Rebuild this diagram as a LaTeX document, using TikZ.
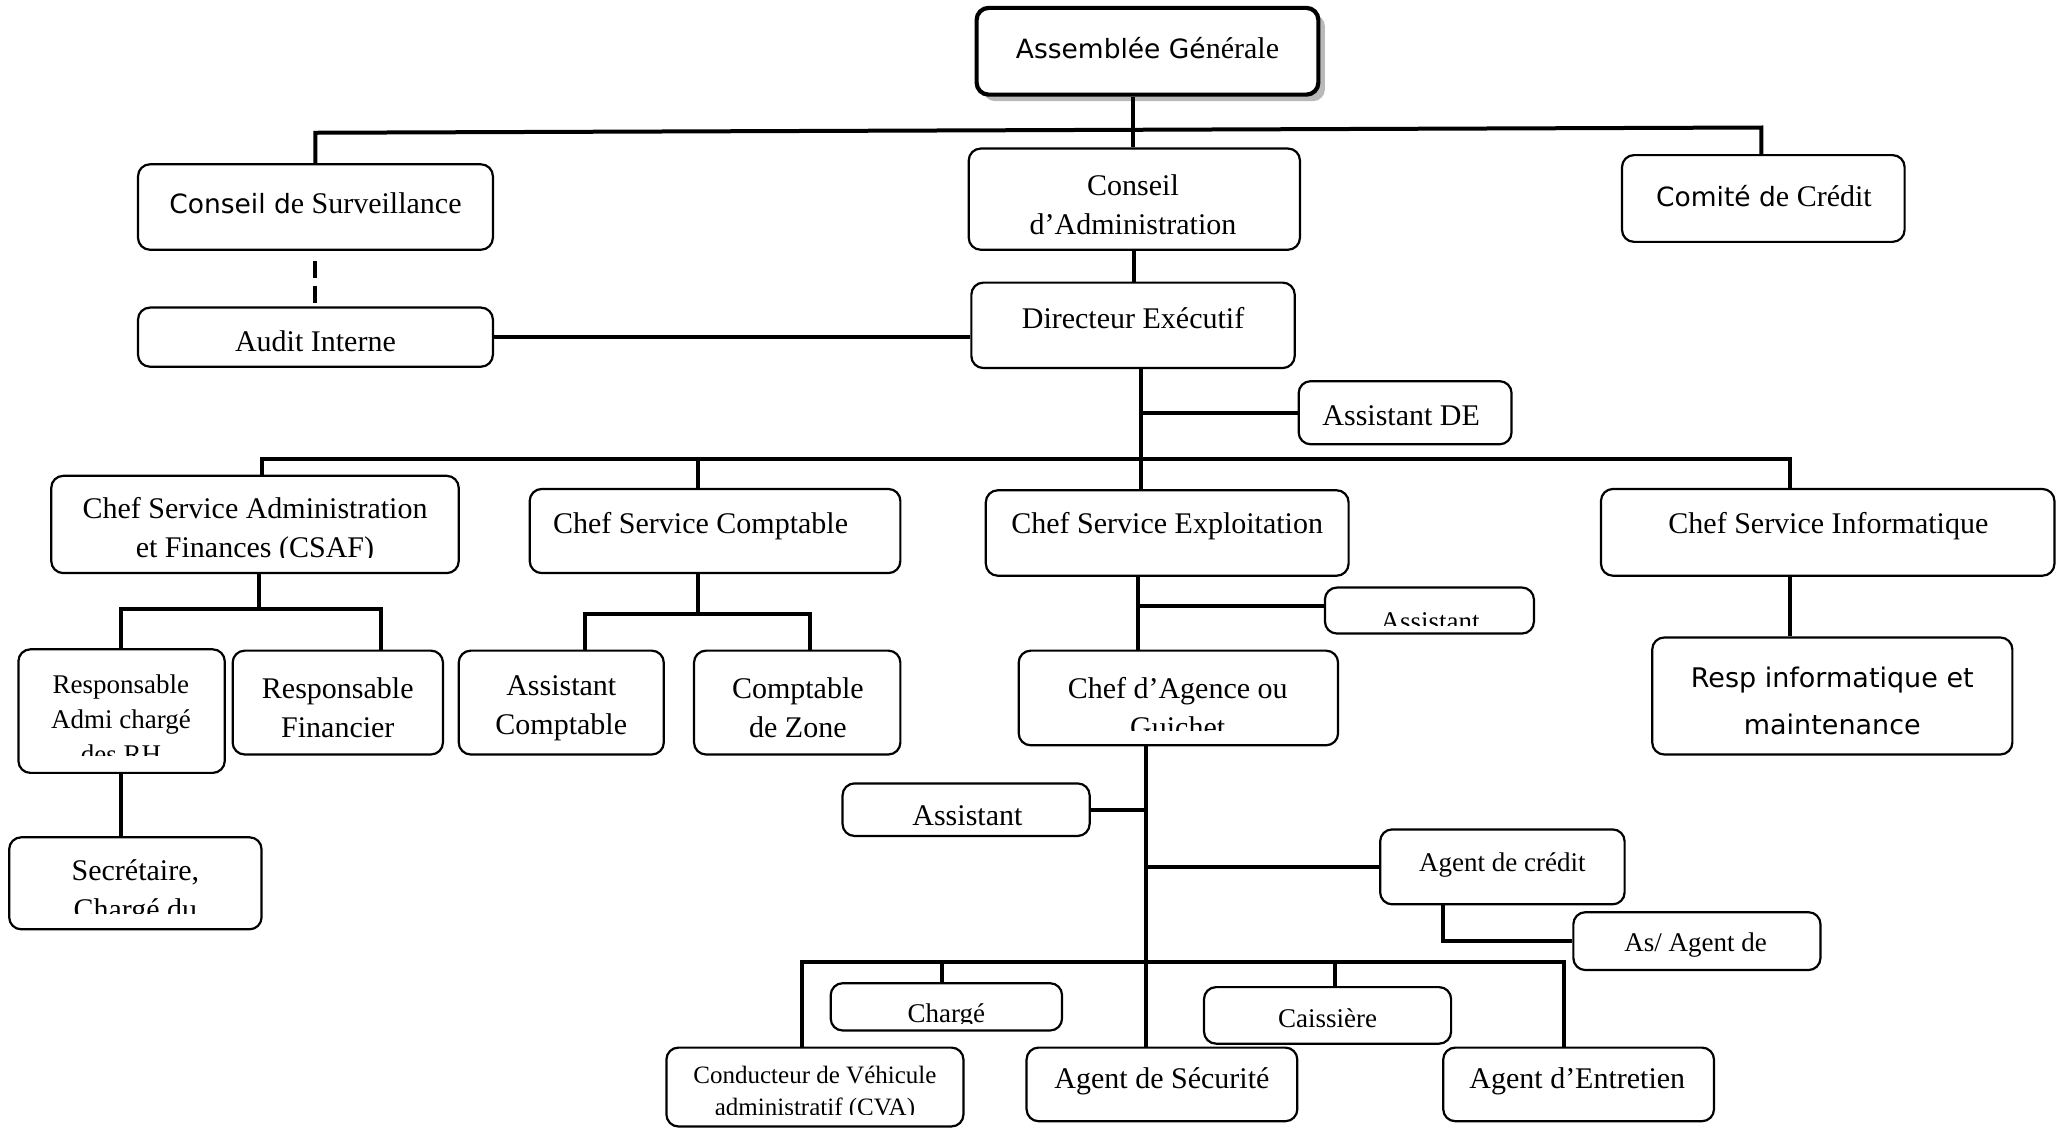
\documentclass[tikz,border=0pt]{standalone}
\usepackage{fontspec}
\setmainfont{Liberation Serif}
\newfontfamily\comicf{DejaVu Sans}
\usetikzlibrary{fit}
\begin{document}
\begin{tikzpicture}[x=1.3144pt,y=-1.3144pt,
  box/.style={draw, line width=2.2pt, rounded corners=12pt, inner sep=0pt},
  link/.style={line width=4pt},
  txt/.style={inner sep=0pt, align=center, font=\fontsize{30}{39}\selectfont},
  txs/.style={inner sep=0pt, align=center, font=\fontsize{27}{35}\selectfont},
  txc/.style={inner sep=0pt, align=center, font=\fontsize{25}{32}\selectfont},
  cmc/.style={inner sep=0pt, align=center, font=\comicf\fontsize{27}{47}\selectfont},
]
\useasboundingbox (0,0) rectangle (1568,859);
\fill[white] (0,0) rectangle (1568,859);

% ---------- boxes ----------
\node[fill=gray!55, rounded corners=12pt, inner sep=0pt, fit={(748,11) (1008,77)}] (agsh) {};
\node[box, line width=4.2pt, fill=white, fit={(743,6) (1003,72)}] (ag) {};
\node[box, fit={(105,125) (375,190)}] (cs) {};
\node[box, fit={(737,113) (989,190)}] (ca) {};
\node[box, fit={(1234,118) (1449,184)}] (cc) {};
\node[box, fit={(105,234) (375,279)}] (audit) {};
\node[box, fit={(739,215) (985,280)}] (de) {};
\node[box, fit={(988,290) (1150,338)}] (ade) {};
\node[box, fit={(39,362) (349,436)}] (csaf) {};
\node[box, fit={(403,372) (685,436)}] (csc) {};
\node[box, fit={(750,373) (1026,438)}] (cse) {};
\node[box, fit={(1218,372) (1563,438)}] (csi) {};
\node[box, fit={(14,494) (171,588)}] (radm) {};
\node[box, fit={(177,495) (337,574)}] (rfin) {};
\node[box, fit={(7,637) (199,707)}] (sec) {};
\node[box, fit={(349,495) (505,574)}] (acpt) {};
\node[box, fit={(528,495) (685,574)}] (czone) {};
\node[box, fit={(1008,447) (1167,482)}] (asse) {};
\node[box, fit={(775,495) (1018,567)}] (cag) {};
\node[box, fit={(1257,485) (1531,574)}] (rinfo) {};
\node[box, fit={(641,596) (829,636)}] (asst2) {};
\node[box, fit={(1050,631) (1236,688)}] (agc) {};
\node[box, fit={(1197,694) (1385,738)}] (asagc) {};
\node[box, fit={(632,748) (808,784)}] (charge) {};
\node[box, fit={(916,751) (1104,794)}] (caiss) {};
\node[box, fit={(507,797) (733,857)}] (cva) {};
\node[box, fit={(781,797) (987,853)}] (asec) {};
\node[box, fit={(1098,797) (1304,853)}] (aent) {};

% ---------- texts ----------
\node[txt] (agt) at (873,36.5) {{\comicf\fontsize{26.5}{34}\selectfont Assemblée Gé}nérale};
\node[txt] (cst) at (240,155) {{\comicf\fontsize{26.5}{34}\selectfont Conseil d}e Surveillance};
\node[txt] (cct) at (1342,149) {{\comicf\fontsize{26.5}{34}\selectfont Comité d}e Crédit};
\node[txt] (auditt) at (240,259.5) {Audit Interne};
\node[txt] (cat) at (862,156) {Conseil\\d’Administration};
\node[txt] (det) at (862,242) {Directeur Exécutif};
\node[txt] (adet) at (1066,316.5) {Assistant DE};
\begin{scope}
  \clip (40,363) rectangle (348,424);
  \node[txt] (csaft) at (194,404) {Chef Service Administration\\et Finances (CSAF)};
\end{scope}
\node[txt] (csct) at (533,400) {Chef Service Comptable};
\node[txt] (cset) at (888,400) {Chef Service Exploitation};
\node[txt] (csit) at (1391,400) {Chef Service Informatique};
\begin{scope}
  \clip (15,495) rectangle (170,575);
  \node[txs] (radmt) at (92,547.5) {Responsable\\Admi chargé\\des RH};
\end{scope}
\node[txt] (rfint) at (257,538.5) {Responsable\\Financier};
\begin{scope}
  \clip (8,638) rectangle (198,695);
  \node[txt] (sect) at (103,679) {Secrétaire,\\Chargé du};
\end{scope}
\node[txt] (acptt) at (427,538.5) {Assistant\\Comptable};
\node[txt] (czonet) at (607,538.5) {Comptable\\de Zone};
\begin{scope}
  \clip (1009,448) rectangle (1166,476);
  \node[txs] (asset) at (1088,473) {Assistant};
\end{scope}
\begin{scope}
  \clip (776,496) rectangle (1017,556);
  \node[txt] (cagt) at (896,538) {Chef d’Agence ou\\Guichet};
\end{scope}
\node[cmc] (rinfot) at (1394,533) {Resp informatique et\\maintenance};
\node[txt] (asst2t) at (736,620.5) {Assistant};
\node[txs] (agct) at (1143,658) {Agent de crédit};
\node[txs] (asagct) at (1290,719) {As/ Agent de};
\begin{scope}
  \clip (633,749) rectangle (807,779);
  \node[txs] (charget) at (720,773) {Chargé};
\end{scope}
\node[txs] (caisst) at (1010,775) {Caissière};
\begin{scope}
  \clip (508,798) rectangle (732,848);
  \node[txc] (cvat) at (620,832) {Conducteur de Véhicule\\administratif (CVA)};
\end{scope}
\node[txt] (asect) at (884,823) {Agent de Sécurité};
\node[txt] (aentt) at (1200,823) {Agent d’Entretien};

% ---------- connectors ----------
\coordinate (bL) at (240,101);
\coordinate (bR) at (1340,97);
\coordinate (j1) at (862,99);
\draw[link] (ag.south -| j1) -- (ca.north -| j1);
\draw[link] (cs.north -| bL) -- (bL) -- (bR) -- (cc.north -| bR);
\draw[link, dash pattern=on 17pt off 8pt on 17pt off 16pt, dash phase=48pt] (cs.south) -- (audit.north);
\draw[link] (audit.east) -- (audit.east -| de.west);
\draw[link] (ca.south) -- (de.north -| ca.south);

\coordinate (j2) at (868,349);
\draw[link] (de.south -| j2) -- (cse.north -| j2);
\draw[link] (ade.west) -- (ade.west -| j2);
\coordinate (b2L) at (199,349);
\coordinate (b2C) at (531,349);
\coordinate (b2R) at (1362,349);
\draw[link] (csaf.north -| b2L) -- (b2L) -- (b2R) -- (csi.north -| b2R);
\draw[link] (b2C) -- (csc.north -| b2C);
\draw[link] (csi.south -| b2R) -- (rinfo.north -| b2R);

\coordinate (c1) at (197,463);
\coordinate (c1L) at (92,463);
\coordinate (c1R) at (290,463);
\draw[link] (csaf.south -| c1) -- (c1);
\draw[link] (radm.north -| c1L) -- (c1L) -- (c1R) -- (rfin.north -| c1R);
\draw[link] (radm.south -| c1L) -- (sec.north -| c1L);

\coordinate (c2) at (531,467);
\coordinate (c2L) at (445,467);
\coordinate (c2R) at (616,467);
\draw[link] (csc.south -| c2) -- (c2);
\draw[link] (acpt.north -| c2L) -- (c2L) -- (c2R) -- (czone.north -| c2R);

\coordinate (c3) at (866,461);
\draw[link] (cse.south -| c3) -- (cag.north -| c3);
\draw[link] (c3) -- (c3 -| asse.west);

\coordinate (c4) at (872,617);
\draw[link] (cag.south -| c4) -- (asec.north -| c4);
\draw[link] (asst2.east) -- (asst2.east -| c4);
\draw[link] (agc.west) -- (agc.west -| c4);
\coordinate (c5) at (1098,716);
\draw[link] (agc.south -| c5) -- (c5) -- (c5 -| asagc.west);

\coordinate (b3L) at (610,732);
\coordinate (b3R) at (1190,732);
\coordinate (b3a) at (717,732);
\coordinate (b3b) at (1016,732);
\draw[link] (cva.north -| b3L) -- (b3L) -- (b3R) -- (aent.north -| b3R);
\draw[link] (b3a) -- (charge.north -| b3a);
\draw[link] (b3b) -- (caiss.north -| b3b);
\end{tikzpicture}
\end{document}
